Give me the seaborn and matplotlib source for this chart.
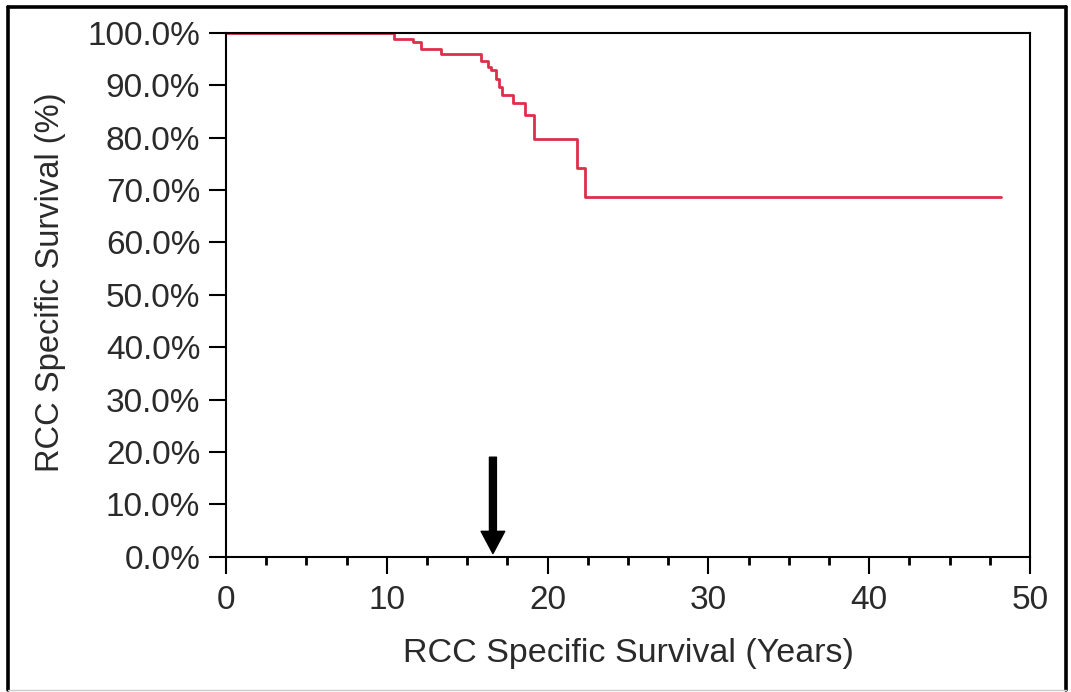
#!/usr/bin/env python3
# coding: utf-8

import pandas as pd
import seaborn as sns
import matplotlib.pyplot as plt
from matplotlib.lines import Line2D
from matplotlib.ticker import MultipleLocator, FuncFormatter


# data (years, % surviving)
years = [0, 10.45, 11.65, 12.1, 13.4, 15.85, 16.3, 16.5, 16.8, 17.0, 17.15,
         17.85, 18.6, 19.15, 21.8, 22.35, 48.2]
survival = [100, 98.9, 98.2, 96.9, 96.0, 94.6, 93.6, 92.9, 91.3, 89.7, 88.2,
            86.7, 84.3, 79.7, 74.2, 68.6, 68.6]
arrow_year = 16.6
arrow_from, arrow_to = 19.0, 0.6

df = pd.DataFrame({'years': years, 'survival': survival})


# plot
sns.set_style('white')
plt.rcParams['font.family'] = ['Liberation Sans', 'DejaVu Sans']
text_col = '#2a2a2a'

fig = plt.figure(figsize=(10.71, 6.92), dpi=100)
ax = fig.add_axes([226 / 1071, 1 - 556.7 / 692, 804 / 1071, 523.7 / 692])

sns.lineplot(x='years', y='survival', data=df, drawstyle='steps-post',
             estimator=None, sort=False, color='#dc2f4a', linewidth=2.0, ax=ax)

ax.annotate('', xy=(arrow_year, arrow_to), xytext=(arrow_year, arrow_from),
            arrowprops=dict(facecolor='black', edgecolor='black', width=5,
                            headwidth=17, headlength=16, shrink=0))

ax.set_xlim(0, 50)
ax.set_ylim(0, 100)
ax.xaxis.set_major_locator(MultipleLocator(10))
ax.xaxis.set_minor_locator(MultipleLocator(2.5))
ax.yaxis.set_major_locator(MultipleLocator(10))
ax.yaxis.set_major_formatter(FuncFormatter(lambda v, p: '%.1f%%' % v))

for s in ax.spines.values():
    s.set_linewidth(1.5)
    s.set_color('black')
ax.tick_params(axis='both', which='major', direction='out', length=12.5, width=1.5,
               labelsize=24, labelcolor=text_col, color='black')
ax.tick_params(axis='x', which='major', pad=8, bottom=True)
ax.tick_params(axis='y', which='major', pad=6, left=True)
ax.tick_params(axis='x', which='minor', direction='out', length=6, width=2,
               bottom=True, color='black')

ax.set_xlabel('RCC Specific Survival (Years)', fontsize=24.5, color=text_col, labelpad=16)
ax.set_ylabel('RCC Specific Survival (%)', fontsize=23.5, color=text_col)
ax.yaxis.set_label_coords(-0.199, 0.524)

# outer frame of the figure
W, H = 1071, 692
frame = dict(transform=fig.transFigure, color='black', linewidth=2.6)
fig.add_artist(Line2D([8 / W, 8 / W], [2 / H, 1 - 7 / H], **frame))
fig.add_artist(Line2D([8 / W, 1066 / W], [1 - 7 / H, 1 - 7 / H], **frame))
fig.add_artist(Line2D([1066 / W, 1066 / W], [2 / H, 1 - 7 / H], **frame))
fig.add_artist(Line2D([8 / W, 1066 / W], [2 / H, 2 / H], transform=fig.transFigure,
                      color='#cccccc', linewidth=1))

plt.savefig('out.png', dpi=100)
